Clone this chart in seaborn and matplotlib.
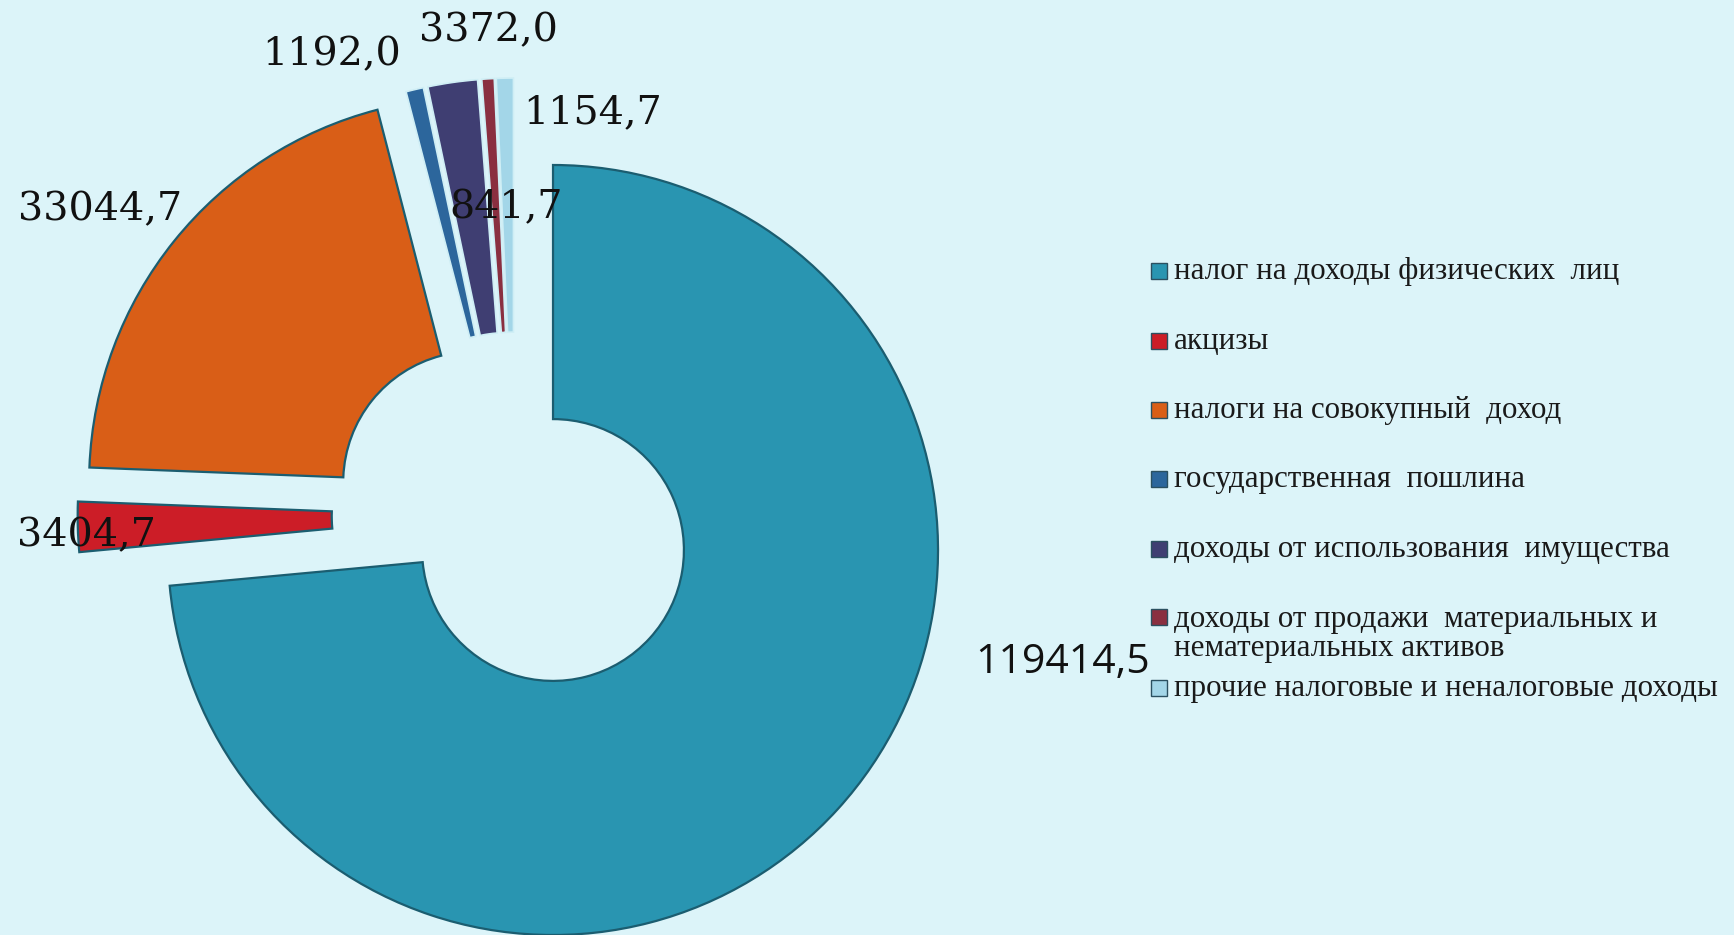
import numpy as np
import pandas as pd
import matplotlib
matplotlib.use("Agg")
import matplotlib.pyplot as plt
import seaborn as sns
from matplotlib.patches import Rectangle

# revenue structure, thousand rubles
categories = [
    "налог на доходы физических  лиц",
    "акцизы",
    "налоги на совокупный  доход",
    "государственная  пошлина",
    "доходы от использования  имущества",
    "доходы от продажи  материальных и\nнематериальных активов",
    "прочие налоговые и неналоговые доходы",
]
values = [119414.5, 3404.7, 33044.7, 1192.0, 3372.0, 841.7, 1154.7]
value_labels = ["119414,5", "3404,7", "33044,7", "1192,0", "3372,0", "841,7", "1154,7"]
colors = ["#2995b1", "#cc1d27", "#d95e17", "#2c669c", "#3f3e72", "#8a2f40", "#a3d6e8"]

bg = "#dcf4f9"
sns.set_style("white")
plt.rcParams["font.family"] = ["Liberation Serif", "DejaVu Serif"]

W, H = 1734, 935
R = 385.0  # pie radius in px
cx, cy = 514.6, 515.0  # pie centre in px from top-left

fig = plt.figure(figsize=(W / 100, H / 100), dpi=100, facecolor=bg)
ax = fig.add_axes([0, 0, 1, 1])
ax.set_facecolor(bg)

wedges, _ = ax.pie(
    values,
    colors=colors,
    startangle=90,
    counterclock=False,
    explode=[0.135] * len(values),
    radius=1.0,
    wedgeprops=dict(width=0.66, edgecolor="#1b5d70", linewidth=1.6),
)
for w in wedges[3:]:
    w.set_edgecolor("#cfeef5")
    w.set_linewidth(1.2)

ax.set_xlim(-cx / R, (W - cx) / R)
ax.set_ylim(-(H - cy) / R, cy / R)
ax.set_aspect("equal")
ax.axis("off")

# data labels (placed by hand in the original)
label_pos = [(1063, 663), (86, 536), (100, 210), (332, 55), (488, 31), (506, 208), (593, 113)]
for i, (txt, (px, py)) in enumerate(zip(value_labels, label_pos)):
    if i == 0:
        fig.text(px / W, 1 - py / H, txt, ha="center", va="center",
                 fontsize=29.5, family=["Open Sans", "DejaVu Sans"], color="#111111")
    else:
        fig.text(px / W, 1 - py / H, txt, ha="center", va="center",
                 fontsize=28.5, family=["DejaVu Serif"], color="#111111")

# legend drawn row by row
row_y = [271, 341, 410, 479, 549, 617, 688]
line_h = 31
for cat, col, py in zip(categories, colors, row_y):
    fig.patches.append(Rectangle((1151 / W, 1 - (py + 8) / H), 16 / W, 16 / H,
                                 transform=fig.transFigure, facecolor=col,
                                 edgecolor="#2b5060", linewidth=1.0))
    base = py + 8 + line_h * cat.count("\n")
    fig.text(1174 / W, 1 - base / H, cat, ha="left", va="baseline",
             fontsize=22.3, color="#1a1a1a", linespacing=1.0)

fig.savefig("out.png", dpi=100, facecolor=bg)
